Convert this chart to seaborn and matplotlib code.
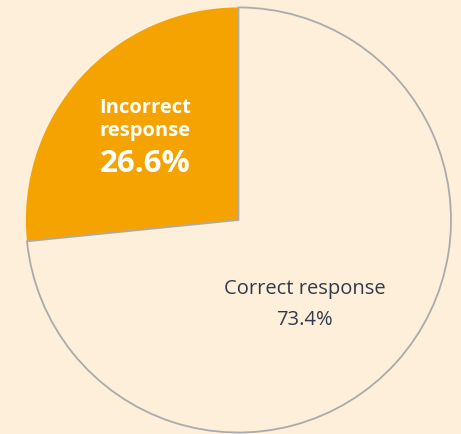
import matplotlib
matplotlib.use('Agg')
import matplotlib.pyplot as plt
import seaborn as sns

# data
labels = ['Correct response', 'Incorrect response']
shares = [73.4, 26.6]
colors = ['#FDEFD9', '#F5A300']

sns.set_theme(style='white')
plt.rcParams['font.family'] = ['Open Sans', 'DejaVu Sans']

bg = '#FDEFD9'
fig = plt.figure(figsize=(4.61, 4.34), dpi=100, facecolor=bg)
ax = fig.add_axes([0, 0, 1, 1])
ax.set_facecolor(bg)

wedges, _ = ax.pie(shares, colors=colors, startangle=90, counterclock=False,
                   radius=1, wedgeprops=dict(linewidth=0))
# grey outline only on the light slice
wedges[0].set_edgecolor('#ABABAB')
wedges[0].set_linewidth(1.3)
wedges[0].set_zorder(3)
wedges[1].set_zorder(2)

ax.set_aspect('auto')
ax.set_xlim(-1.122, 1.047)
ax.set_ylim(-1.007, 1.035)
ax.axis('off')

# labels
txt = '#323A4A'
ax.text(-0.44, 0.527, 'Incorrect', ha='center', va='center', color='white',
        fontsize=14.5, fontweight='bold')
ax.text(-0.44, 0.418, 'response', ha='center', va='center', color='white',
        fontsize=14.5, fontweight='bold')
ax.text(-0.44, 0.262, f'{shares[1]:.1f}%', ha='center', va='center', color='white',
        fontsize=22.5, fontweight='bold')
ax.text(0.31, -0.325, labels[0], ha='center', va='center', color=txt, fontsize=14.5)
ax.text(0.31, -0.47, f'{shares[0]:.1f}%', ha='center', va='center', color=txt, fontsize=14.5)

fig.savefig('out.png', dpi=100, facecolor=bg)
